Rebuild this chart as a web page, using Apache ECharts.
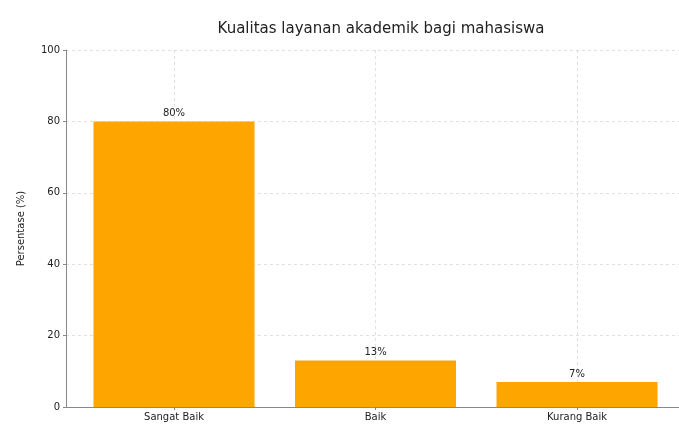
<!DOCTYPE html>
<html>
<head>
<meta charset="utf-8">
<script src="https://cdn.jsdelivr.net/npm/echarts@6/dist/echarts.min.js"></script>
<style>
  html, body { margin: 0; padding: 0; background: #ffffff; }
  #chart { width: 679px; height: 426px; }
</style>
</head>
<body>
<div id="chart"></div>
<script>
// Survey categories and the share of respondents in each (%)
const categories = ['Sangat Baik', 'Baik', 'Kurang Baik'];
const percentages = [80, 13, 7];
const yTicks = [0, 20, 40, 60, 80, 100];

const chart = echarts.init(document.getElementById('chart'), null, { renderer: 'canvas' });

const font = 'DejaVu Sans, Verdana, sans-serif';
const barData = categories.map((c, i) => [i, percentages[i]]);
const catPositions = categories.map((c, i) => i);

chart.setOption({
  animation: false,
  backgroundColor: '#ffffff',
  title: {
    text: 'Kualitas layanan akademik bagi mahasiswa',
    left: 376,
    top: 17,
    textAlign: 'center',
    textStyle: { fontFamily: font, fontSize: 15, fontWeight: 'normal', color: '#222' }
  },
  grid: { left: 66, right: 0, top: 50, bottom: 19, containLabel: false },
  xAxis: {
    type: 'value',
    // the category band runs past the right edge of the canvas
    min: -0.536,
    max: 2.506,
    axisLine: { show: true, onZero: false, lineStyle: { color: '#888', width: 1 } },
    axisTick: { show: true, customValues: catPositions, length: 3, lineStyle: { color: '#888' } },
    axisLabel: {
      customValues: catPositions,
      formatter: v => categories[Math.round(v)] || '',
      fontFamily: font, fontSize: 10, color: '#222', margin: 5
    },
    splitLine: { show: true, lineStyle: { color: '#d8d8d8', type: [3, 3], width: 0.8 } }
  },
  yAxis: {
    type: 'value',
    min: 0,
    max: 100,
    interval: 20,
    name: 'Persentase (%)',
    nameLocation: 'middle',
    nameGap: 40,
    nameTextStyle: { fontFamily: font, fontSize: 10, color: '#222' },
    axisLine: { show: true, onZero: false, lineStyle: { color: '#888', width: 1 } },
    axisTick: { show: true, length: 3, lineStyle: { color: '#888' } },
    axisLabel: {
      formatter: v => (yTicks.indexOf(v) >= 0 ? String(v) : ''),
      fontFamily: font, fontSize: 10, color: '#222', margin: 6
    },
    splitLine: { show: true, lineStyle: { color: '#d8d8d8', type: [3, 3], width: 0.8 } }
  },
  series: [
    {
      type: 'bar',
      data: barData,
      barWidth: 161,
      itemStyle: { color: '#FFA500' },
      label: {
        show: true,
        position: 'top',
        distance: 3,
        formatter: p => p.value[1] + '%',
        fontFamily: font, fontSize: 10, color: '#222'
      },
      z: 2
    }
  ]
});
</script>
</body>
</html>
